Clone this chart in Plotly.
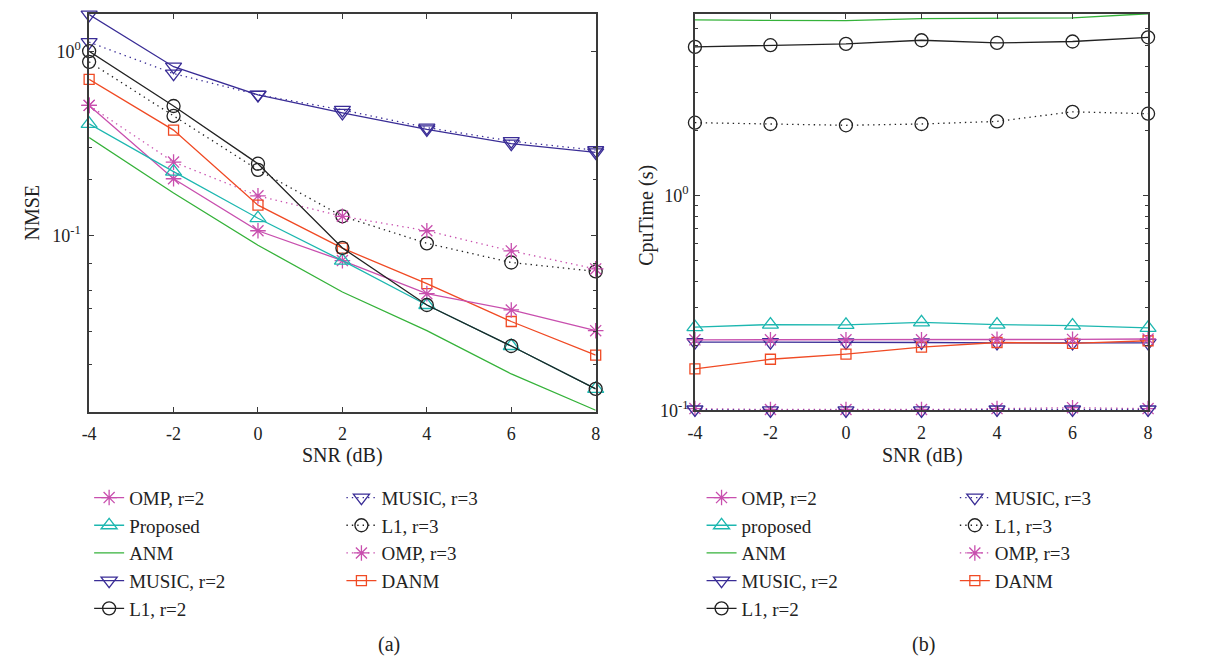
import plotly.graph_objects as go

W, H = 1224, 667

snr = [-4, -2, 0, 2, 4, 6, 8]
snr_labels = ["-4", "-2", "0", "2", "4", "6", "8"]

# (a) NMSE
nmse_omp2 = [0.508, 0.203, 0.106, 0.073, 0.0483, 0.0394, 0.0304]
nmse_proposed = [0.403, 0.222, 0.124, 0.073, 0.0419, 0.0251, 0.0147]
nmse_anm = [0.34, 0.17, 0.0885, 0.0493, 0.0304, 0.0177, 0.01125]
nmse_music2 = [1.58, 0.824, 0.579, 0.462, 0.376, 0.315, 0.282]
nmse_l1_2 = [1.0, 0.504, 0.245, 0.0855, 0.0419, 0.0251, 0.0147]
nmse_music3 = [1.12, 0.756, 0.58, 0.48, 0.385, 0.325, 0.29]
nmse_l1_3 = [0.875, 0.445, 0.227, 0.127, 0.0906, 0.0713, 0.0638]
nmse_omp3 = [0.508, 0.25, 0.164, 0.127, 0.106, 0.0824, 0.0658]
nmse_danm = [0.703, 0.373, 0.146, 0.0853, 0.0547, 0.0341, 0.0224]

# (b) CPU time (s)
cpu_omp2 = [0.213, 0.213, 0.213, 0.213, 0.214, 0.214, 0.215]
cpu_proposed = [0.244, 0.251, 0.25, 0.257, 0.251, 0.248, 0.242]
cpu_anm = [6.55, 6.55, 6.5, 6.65, 6.65, 6.7, 7.0]
cpu_music2 = [0.208, 0.208, 0.207, 0.207, 0.206, 0.206, 0.206]
cpu_l1_2 = [4.91, 5.0, 5.07, 5.27, 5.12, 5.2, 5.44]
cpu_music3 = [0.101, 0.100, 0.100, 0.100, 0.101, 0.101, 0.101]
cpu_l1_3 = [2.18, 2.15, 2.12, 2.15, 2.21, 2.45, 2.40]
cpu_omp3 = [0.102, 0.101, 0.101, 0.101, 0.102, 0.103, 0.102]
cpu_danm = [0.156, 0.173, 0.183, 0.197, 0.207, 0.205, 0.211]

C_OMP = "#C84FAE"
C_PROP = "#1DB7B0"
C_ANM = "#35B23A"
C_MUSIC = "#3A2D96"
C_L1 = "#222222"
C_DANM = "#F04A24"

DOT = "1.4px,4px"
FONT = "Liberation Serif, Times New Roman, serif"

fig = go.Figure()


def add(xa, ya, name, y, color, dash, symbol, size, legend, rank):
    fig.add_trace(go.Scatter(
        x=snr, y=y, name=name, xaxis=xa, yaxis=ya, legend=legend, legendrank=rank,
        mode="lines+markers" if symbol else "lines",
        line=dict(color=color, width=1.3, dash=dash),
        marker=dict(symbol=symbol or "circle", size=size, color=color,
                    line=dict(color=color, width=1.3)),
        cliponaxis=False,
    ))


def panel(xa, ya, d, la, lb, prop_name):
    add(xa, ya, "ANM", d["anm"], C_ANM, "solid", None, 1, la, 3)
    add(xa, ya, "L1, r=3", d["l13"], C_L1, DOT, "circle-open", 13, lb, 2)
    add(xa, ya, "OMP, r=3", d["omp3"], C_OMP, DOT, "asterisk-open", 13, lb, 3)
    add(xa, ya, "MUSIC, r=3", d["mu3"], C_MUSIC, DOT, "triangle-down-open", 14, lb, 1)
    add(xa, ya, "MUSIC, r=2", d["mu2"], C_MUSIC, "solid", "triangle-down-open", 14, la, 4)
    add(xa, ya, "DANM", d["danm"], C_DANM, "solid", "square-open", 10, lb, 4)
    add(xa, ya, "OMP, r=2", d["omp2"], C_OMP, "solid", "asterisk-open", 13, la, 1)
    add(xa, ya, prop_name, d["prop"], C_PROP, "solid", "triangle-up-open", 14, la, 2)
    add(xa, ya, "L1, r=2", d["l12"], C_L1, "solid", "circle-open", 13, la, 5)


panel("x", "y", dict(anm=nmse_anm, l13=nmse_l1_3, omp3=nmse_omp3, mu3=nmse_music3,
                     mu2=nmse_music2, danm=nmse_danm, omp2=nmse_omp2, prop=nmse_proposed,
                     l12=nmse_l1_2), "legend", "legend2", "Proposed")
panel("x2", "y2", dict(anm=cpu_anm, l13=cpu_l1_3, omp3=cpu_omp3, mu3=cpu_music3,
                       mu2=cpu_music2, danm=cpu_danm, omp2=cpu_omp2, prop=cpu_proposed,
                       l12=cpu_l1_2), "legend3", "legend4", "proposed")

axis_common = dict(showline=True, linecolor="#3a3a3a", linewidth=1.5, mirror="ticks",
                   ticks="inside", tickcolor="#3a3a3a", showgrid=False, zeroline=False,
                   tickfont=dict(family=FONT, size=18, color="#222"))

xcommon = dict(axis_common, range=[-4, 8], tickmode="array", tickvals=snr,
               ticktext=snr_labels, ticklen=5, ticklabelstandoff=5)

fig.update_layout(
    width=W, height=H, margin=dict(l=0, r=0, t=0, b=0),
    paper_bgcolor="white", plot_bgcolor="white",
    font=dict(family=FONT, color="#222"),
    xaxis=dict(xcommon, domain=[82 / W, 594 / W], anchor="y"),
    yaxis=dict(axis_common, type="log", domain=[1 - 418 / H, 1 - 14 / H], anchor="x",
               range=[-1.957, 0.203], tickmode="array", tickvals=[0.1, 1],
               ticktext=["10<sup>-1</sup>", "10<sup>0</sup>"], ticklen=5,
               ticklabelstandoff=3,
               minor=dict(tickmode="array",
                          tickvals=[0.02, 0.03, 0.04, 0.05, 0.07, 0.2, 0.3],
                          ticks="inside", ticklen=3, tickcolor="#3a3a3a")),
    xaxis2=dict(xcommon, domain=[694.3 / W, 1152.3 / W], anchor="y2"),
    yaxis2=dict(axis_common, type="log", domain=[1 - 416.7 / H, 1 - 14 / H], anchor="x2",
                range=[-1, 0.845], tickmode="array", tickvals=[0.1, 1],
                ticktext=["10<sup>-1</sup>", "10<sup>0</sup>"], ticklen=5,
                ticklabelstandoff=1,
                minor=dict(tickmode="array",
                           tickvals=[0.2, 0.3, 0.4, 0.5, 0.6, 0.7, 0.8, 0.9, 2, 3, 4, 5, 6],
                           ticks="inside", ticklen=3, tickcolor="#3a3a3a")),
)

leg_common = dict(xanchor="left", yanchor="top", bgcolor="rgba(0,0,0,0)",
                  font=dict(family=FONT, size=19, color="#222"), itemwidth=30,
                  traceorder="normal", tracegroupgap=0, itemclick=False)
fig.update_layout(
    legend=dict(leg_common, x=82 / W, y=1 - 486 / H),
    legend2=dict(leg_common, x=337 / W, y=1 - 486 / H),
    legend3=dict(leg_common, x=701 / W, y=1 - 486 / H),
    legend4=dict(leg_common, x=957 / W, y=1 - 486 / H),
)

ann = [
    dict(text="SNR (dB)", x=338 / W, y=1 - 462 / H),
    dict(text="SNR (dB)", x=924 / W, y=1 - 462 / H),
    dict(text="NMSE", x=24 / W, y=1 - 216 / H, textangle=-90),
    dict(text="CpuTime (s)", x=646 / W, y=1 - 219 / H, textangle=-90),
    dict(text="(a)", x=385 / W, y=1 - 654 / H),
    dict(text="(b)", x=925 / W, y=1 - 654 / H),
]
for a in ann:
    fig.add_annotation(xref="paper", yref="paper", xanchor="center", yanchor="middle",
                       showarrow=False, font=dict(family=FONT, size=20, color="#222"), **a)

fig.write_html("out.html")
